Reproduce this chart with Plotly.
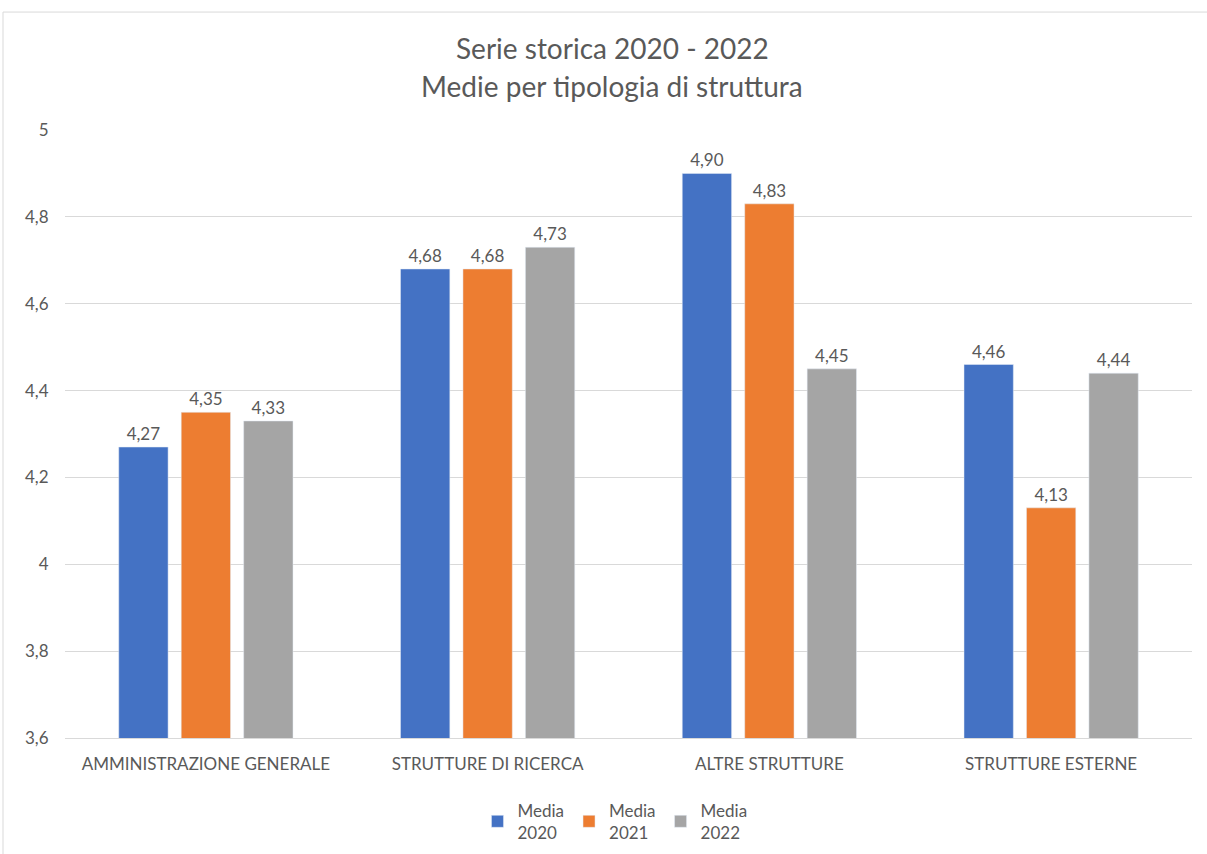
import plotly.graph_objects as go

categories = ["AMMINISTRAZIONE GENERALE", "STRUTTURE DI RICERCA", "ALTRE STRUTTURE", "STRUTTURE ESTERNE"]
series_names = ["Media<br>2020", "Media<br>2021", "Media<br>2022"]
media_2020 = [4.27, 4.68, 4.90, 4.46]
media_2021 = [4.35, 4.68, 4.83, 4.13]
media_2022 = [4.33, 4.73, 4.45, 4.44]
colors = ["#4472C4", "#ED7D31", "#A5A5A5"]
title_lines = ["Serie storica 2020 - 2022", "Medie per tipologia di struttura"]

FONT = "Lato"
TXT = "#595959"

fig = go.Figure()
for name, vals, col in zip(series_names, [media_2020, media_2021, media_2022], colors):
    fig.add_trace(go.Bar(
        x=categories, y=vals, name=name, marker_color=col,
        texttemplate="%{y:.2f}", textposition="outside",
        textfont=dict(family=FONT, size=17, color=TXT),
        cliponaxis=False,
    ))

fig.update_layout(
    width=1207, height=854,
    margin=dict(l=65, r=15, t=130, b=116, autoexpand=False),
    paper_bgcolor="white", plot_bgcolor="white",
    separators=",.",
    barmode="group", bargap=0.335, bargroupgap=0.21,
    font=dict(family=FONT, color=TXT),
    yaxis=dict(range=[3.6, 5.0], dtick=0.2, tick0=3.6, showgrid=True,
               gridcolor="#D9D9D9", gridwidth=1, zeroline=False, showline=False,
               tickfont=dict(family=FONT, size=17, color=TXT),
               ticks="outside", ticklen=12, tickcolor="rgba(0,0,0,0)", automargin=False),
    xaxis=dict(showline=True, linecolor="#D9D9D9", linewidth=1,
               tickfont=dict(family=FONT, size=17, color=TXT),
               ticks="outside", ticklen=11, tickcolor="rgba(0,0,0,0)", automargin=False),
    legend=dict(orientation="h", x=0.488, xanchor="center", y=-0.09, yanchor="top",
                font=dict(family=FONT, size=17, color=TXT), itemwidth=30,
                traceorder="normal"),
    showlegend=True,
)

for txt, ypx in zip(title_lines, [48, 86]):
    fig.add_annotation(text=txt, xref="paper", yref="paper", x=(612 - 65) / 1127,
                       y=(738 - ypx) / 608, xanchor="center", yanchor="middle",
                       showarrow=False, font=dict(family=FONT, size=28, color=TXT))

fig.add_shape(type="line", xref="paper", yref="paper", x0=-0.055, x1=-0.055, y0=-0.2, y1=1.194,
              line=dict(color="#D9D9D9", width=1))
fig.add_shape(type="line", xref="paper", yref="paper", x0=-0.055, x1=1.02, y0=1.194, y1=1.194,
              line=dict(color="#D9D9D9", width=1))

fig.write_html("out.html")
